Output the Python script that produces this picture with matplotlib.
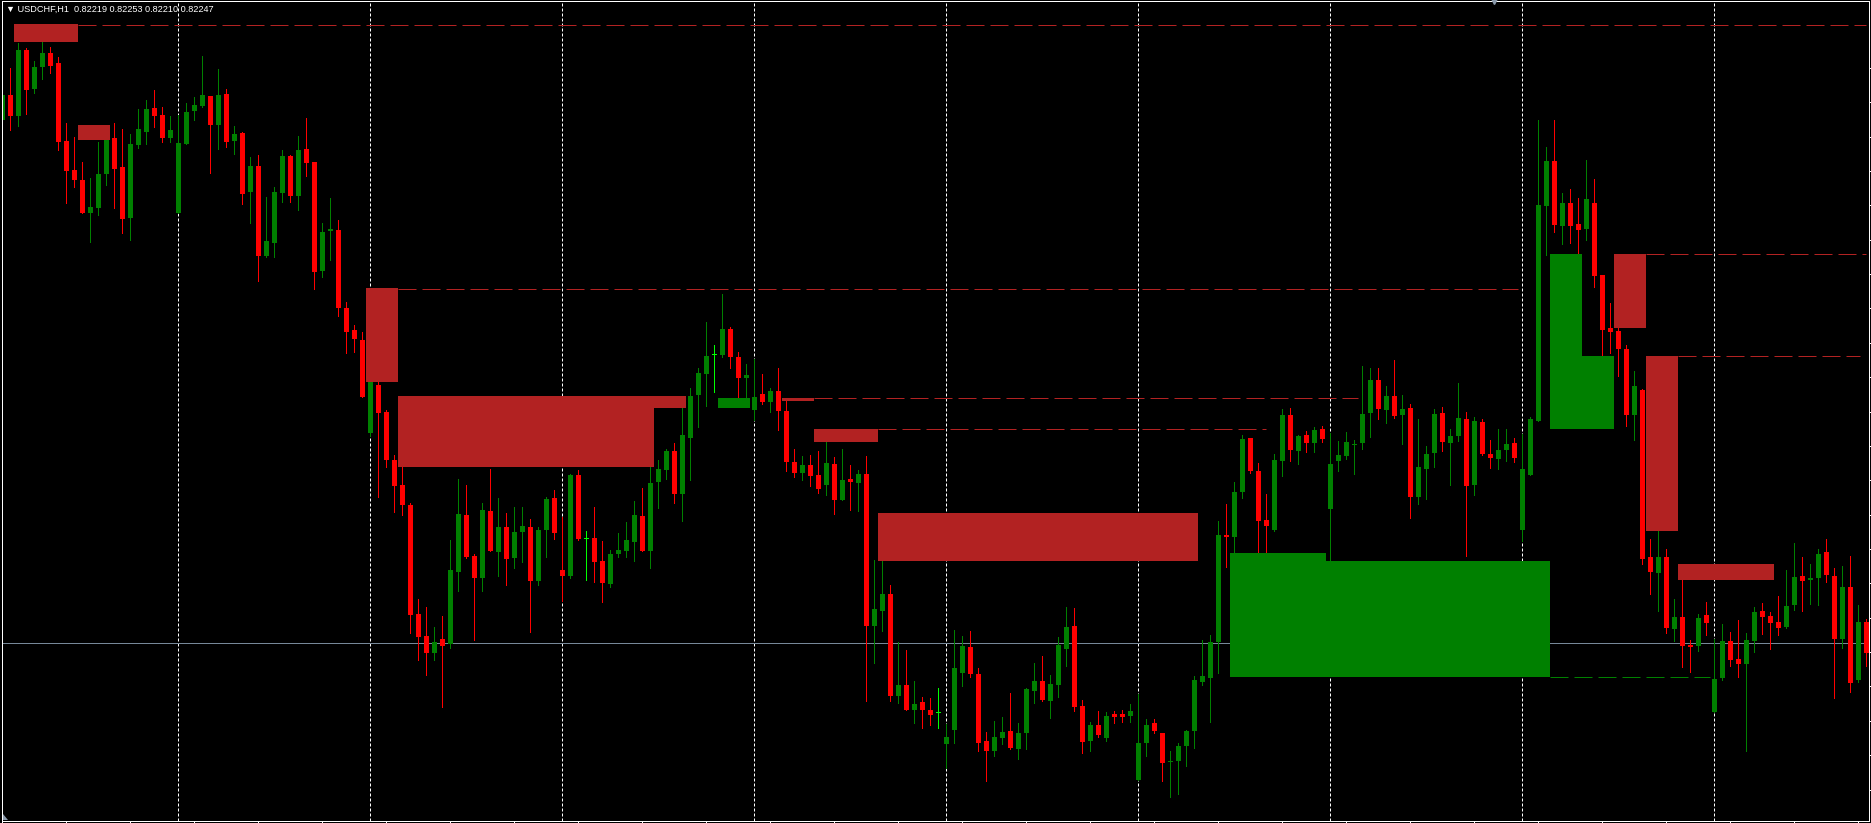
import matplotlib
matplotlib.use('Agg')
import matplotlib.pyplot as plt
from matplotlib.patches import Rectangle, Polygon
import numpy as np

# USDCHF H1 candles, values in chart points
opens = [
    1372, 1419, 1379, 1505, 1430, 1473, 1499, 1480, 1332, 1277,
    1257, 1194, 1204, 1268, 1337, 1282, 1185, 1324, 1349, 1394,
    1381, 1337, 1194, 1326, 1389, 1398, 1417, 1362, 1421, 1331,
    1347, 1234, 1284, 1112, 1137, 1232, 1303, 1227, 1316, 1291,
    1084, 1159, 1162, 1013, 971, 952, 775, 866, 815, 724,
    677, 638, 430, 388, 356, 383, 373, 510, 619, 541,
    498, 626, 548, 596, 537, 586, 596, 493, 590, 651,
    514, 503, 695, 574, 575, 531, 487, 545, 550, 567,
    617, 550, 682, 705, 741, 659, 766, 847, 887, 923,
    923, 973, 919, 879, 819, 849, 834, 855, 817, 720,
    699, 714, 695, 676, 716, 647, 687, 680, 697, 407,
    436, 468, 274, 295, 247, 263, 247, 242, 182, 209,
    318, 367, 316, 188, 169, 194, 207, 173, 203, 283,
    303, 264, 295, 364, 407, 255, 188, 219, 194, 240,
    240, 236, 114, 184, 222, 203, 148, 150, 178, 207,
    301, 308, 377, 581, 577, 663, 766, 703, 609, 590,
    722, 809, 741, 771, 756, 783, 630, 722, 731, 752,
    756, 813, 876, 819, 846, 809, 823, 653, 707, 737,
    813, 756, 769, 802, 676, 796, 735, 726, 743, 756,
    590, 695, 798, 1207, 1293, 1169, 1213, 1173, 1164, 1213,
    1076, 975, 969, 935, 809, 857, 539, 508, 539, 402,
    424, 371, 369, 428, 243, 308, 379, 344, 335, 379,
    436, 426, 415, 406, 447, 503, 495, 499, 548, 503,
    383, 482, 304, 415]

highs = [
    1470, 1470, 1518, 1508, 1484, 1520, 1510, 1491, 1366, 1339,
    1291, 1261, 1329, 1350, 1366, 1354, 1345, 1392, 1409, 1429,
    1396, 1379, 1381, 1404, 1415, 1493, 1417, 1469, 1430, 1360,
    1349, 1301, 1305, 1225, 1244, 1314, 1305, 1340, 1375, 1291,
    1175, 1223, 1181, 1025, 981, 967, 900, 872, 819, 733,
    710, 642, 459, 444, 405, 426, 571, 687, 676, 545,
    642, 706, 651, 623, 634, 634, 611, 596, 653, 666,
    615, 697, 704, 588, 634, 569, 552, 585, 605, 645,
    670, 710, 724, 745, 756, 830, 861, 899, 987, 943,
    1040, 977, 929, 906, 916, 887, 861, 899, 837, 745,
    731, 733, 741, 758, 729, 745, 714, 705, 731, 533,
    531, 485, 377, 362, 303, 272, 270, 289, 220, 400,
    388, 398, 327, 205, 226, 234, 280, 222, 289, 337,
    350, 314, 386, 444, 442, 266, 224, 245, 243, 245,
    247, 259, 278, 230, 230, 203, 169, 184, 209, 312,
    381, 390, 607, 640, 682, 771, 766, 718, 659, 735,
    821, 823, 771, 779, 787, 789, 775, 760, 777, 762,
    903, 899, 899, 865, 914, 848, 830, 802, 750, 821,
    825, 783, 870, 815, 806, 802, 762, 783, 783, 766,
    773, 806, 1371, 1320, 1371, 1232, 1240, 1223, 1295, 1259,
    1076, 1023, 980, 943, 893, 859, 573, 588, 554, 459,
    495, 381, 430, 453, 383, 411, 396, 419, 394, 444,
    451, 434, 464, 514, 565, 539, 525, 554, 573, 518,
    522, 541, 447, 421]

lows = [
    1343, 1352, 1360, 1383, 1423, 1449, 1461, 1314, 1213, 1244,
    1194, 1139, 1190, 1248, 1204, 1156, 1143, 1318, 1326, 1358,
    1330, 1330, 1194, 1326, 1371, 1396, 1270, 1316, 1320, 1306,
    1212, 1175, 1065, 1110, 1110, 1216, 1216, 1200, 1265, 1049,
    1072, 1105, 998, 927, 929, 844, 770, 654, 710, 625,
    619, 394, 343, 314, 343, 253, 365, 474, 537, 381,
    474, 550, 503, 485, 518, 529, 396, 485, 539, 573,
    456, 499, 571, 495, 491, 453, 482, 539, 539, 531,
    550, 518, 632, 687, 642, 607, 685, 787, 827, 853,
    919, 899, 840, 840, 800, 830, 815, 781, 702, 691,
    685, 674, 661, 657, 621, 647, 628, 626, 264, 337,
    398, 264, 260, 247, 223, 214, 218, 214, 137, 184,
    293, 310, 169, 113, 160, 182, 173, 154, 173, 261,
    264, 232, 272, 331, 245, 165, 169, 196, 188, 222,
    224, 224, 114, 160, 203, 112, 81, 87, 141, 175,
    295, 224, 318, 520, 540, 651, 699, 546, 546, 588,
    693, 722, 716, 739, 739, 758, 520, 703, 726, 697,
    745, 768, 802, 794, 804, 754, 613, 640, 649, 710,
    741, 676, 760, 541, 657, 733, 708, 706, 722, 720,
    569, 695, 798, 1114, 1158, 1135, 1137, 1114, 1143, 1053,
    922, 927, 884, 789, 762, 525, 468, 436, 394, 379,
    329, 320, 360, 390, 243, 304, 331, 310, 169, 358,
    392, 364, 390, 404, 438, 436, 449, 447, 491, 270,
    366, 282, 301, 331]

closes = [
    1419, 1379, 1505, 1429, 1472, 1499, 1474, 1329, 1274, 1257,
    1194, 1206, 1268, 1334, 1278, 1183, 1326, 1354, 1392, 1379,
    1337, 1352, 1328, 1387, 1400, 1419, 1362, 1419, 1329, 1345,
    1230, 1284, 1112, 1141, 1234, 1303, 1227, 1314, 1289, 1082,
    1158, 1164, 1013, 967, 954, 844, 890, 813, 724, 675,
    638, 429, 387, 356, 377, 369, 514, 621, 539, 498,
    628, 550, 596, 535, 586, 598, 493, 590, 649, 585,
    503, 695, 573, 574, 529, 489, 545, 552, 571, 619,
    550, 680, 706, 741, 659, 771, 846, 889, 922, 923,
    973, 919, 880, 886, 844, 834, 855, 817, 720, 699,
    714, 693, 668, 718, 647, 685, 682, 697, 407, 440,
    468, 274, 295, 247, 259, 247, 238, 242, 196, 327,
    369, 316, 184, 169, 196, 205, 175, 203, 287, 303,
    266, 297, 371, 405, 253, 186, 219, 199, 236, 234,
    234, 245, 184, 219, 207, 146, 150, 178, 207, 304,
    312, 377, 581, 577, 663, 764, 703, 607, 598, 724,
    809, 743, 769, 756, 781, 764, 716, 733, 758, 755,
    811, 876, 821, 846, 807, 821, 653, 710, 735, 811,
    758, 769, 804, 674, 798, 735, 727, 743, 754, 727,
    706, 802, 1209, 1293, 1171, 1213, 1169, 1162, 1221, 1074,
    971, 967, 935, 809, 865, 535, 510, 539, 404, 424,
    369, 367, 423, 413, 306, 379, 343, 335, 381, 434,
    424, 413, 404, 445, 501, 493, 499, 545, 505, 383,
    482, 299, 415, 356]

# supply / demand zones: bar span, top, bottom (points), colour
zone_start = [1.5, 9.5, 45.5, 49.5, 49.5, 89.5, 97.5, 101.5, 109.5, 153.5, 153.5, 193.5, 193.5, 201.5, 205.5, 209.5]
zone_end = [9.5, 13.5, 49.5, 81.5, 85.5, 93.5, 101.5, 109.5, 149.5, 165.5, 193.5, 197.5, 201.5, 205.5, 209.5, 221.5]
zone_top = [1554, 1362, 1051, 846, 846, 842, 842, 783, 623, 546, 531, 1116, 922, 1116, 922, 525]
zone_bottom = [1520, 1333, 872, 710, 823, 823, 837, 758, 531, 310, 310, 782, 782, 975, 588, 495]
zone_kind = ['s', 's', 's', 's', 's', 'd', 's', 's', 's', 'd', 'd', 'd', 'd', 's', 's', 's']

# dashed levels left after the zones
level_value = [1553, 1050, 841, 782, 311, 1116, 921]
level_start = [9.5, 49.5, 101.5, 109.5, 193.5, 205.5, 209.5]
level_end = [233, 189.5, 169.5, 158, 213.5, 233, 232.2]
level_kind = ['s', 's', 's', 's', 'd', 's', 's']

bid_level = 375
day_starts = [22, 46, 70, 94, 118, 142, 166, 190, 214]

# points -> price
P0, PRICE0, STEP = 96, 0.8205, 0.0005 / 65.45
def to_price(p):
    return PRICE0 + (np.asarray(p, dtype=float) - P0) * STEP

BULL, BEAR, DOJI = '#008000', '#FF0000', '#00FF00'
ZCOL = {'s': '#B22222', 'd': '#008000'}
PX = 0.72  # one pixel in points at dpi 100

W, H = 1871, 823
fig = plt.figure(figsize=(W / 100, H / 100), dpi=100, facecolor='black')
ax = fig.add_axes([2 / W, 1 - 820.5 / H, 1867 / W, 819.5 / H])
ax.set_facecolor('black')

o = to_price(opens)
h = to_price(highs)
l = to_price(lows)
c = to_price(closes)
x = np.arange(len(o))
cols = np.where(c > o, BULL, np.where(c < o, BEAR, DOJI))

# day separators and bid line
for d in day_starts:
    ax.axvline(d, color='white', lw=PX, ls=(0, (3, 2)), zorder=1)
ax.axhline(to_price(bid_level), color='#778899', lw=PX, zorder=1)

# candles
ax.vlines(x, l, h, colors=cols, lw=PX, zorder=2, antialiased=False)
body = np.maximum(np.abs(c - o), 1.9 * STEP)
ax.bar(x, body, bottom=np.minimum(o, c), width=0.625, color=cols,
       lw=0, zorder=2, antialiased=False)

# zones on top of candles
for s, e, t, b, k in zip(zone_start, zone_end, zone_top, zone_bottom, zone_kind):
    y0, y1 = to_price(b), to_price(t)
    ax.add_patch(Rectangle((s, y0), e - s, y1 - y0, facecolor=ZCOL[k],
                           edgecolor='none', zorder=3))
for v, s, e, k in zip(level_value, level_start, level_end, level_kind):
    ax.hlines(to_price(v), s, e, colors=ZCOL[k], lw=PX, linestyles=(0, (18, 6)), zorder=3)

ax.set_xlim(-0.0375, 233.34)
ax.set_ylim(to_price(37), to_price(1598))

for sp in ax.spines.values():
    sp.set_color('white')
    sp.set_linewidth(PX)
ax.yaxis.tick_right()
ax.set_yticks(to_price(np.arange(96, 1480, 65.45)))
ax.set_xticks(np.arange(0, 234, 8))
ax.tick_params(colors='white', direction='out', length=1.8, width=PX,
               labelleft=False, labelright=False, labelbottom=False)

# chart shift marker
ax.plot([186.5], [to_price(1598)], marker='v', markersize=5, color='#8a99aa',
        clip_on=False, zorder=5)

# small corner mark bottom-left
fig.add_artist(Polygon([[3 / W, 1 - 820 / H], [3 / W, 1 - 814 / H], [8 / W, 1 - 820 / H]],
                       closed=True, facecolor='#8a99aa', edgecolor='none',
                       transform=fig.transFigure))

fig.text(6 / W, 1 - 12.3 / H, '\u25bc USDCHF,H1  0.82219 0.82253 0.82210 0.82247',
         color='white', fontsize=6.6, family=['Liberation Sans', 'DejaVu Sans'],
         va='baseline', ha='left')

fig.savefig('out.png', dpi=100, facecolor='black')
